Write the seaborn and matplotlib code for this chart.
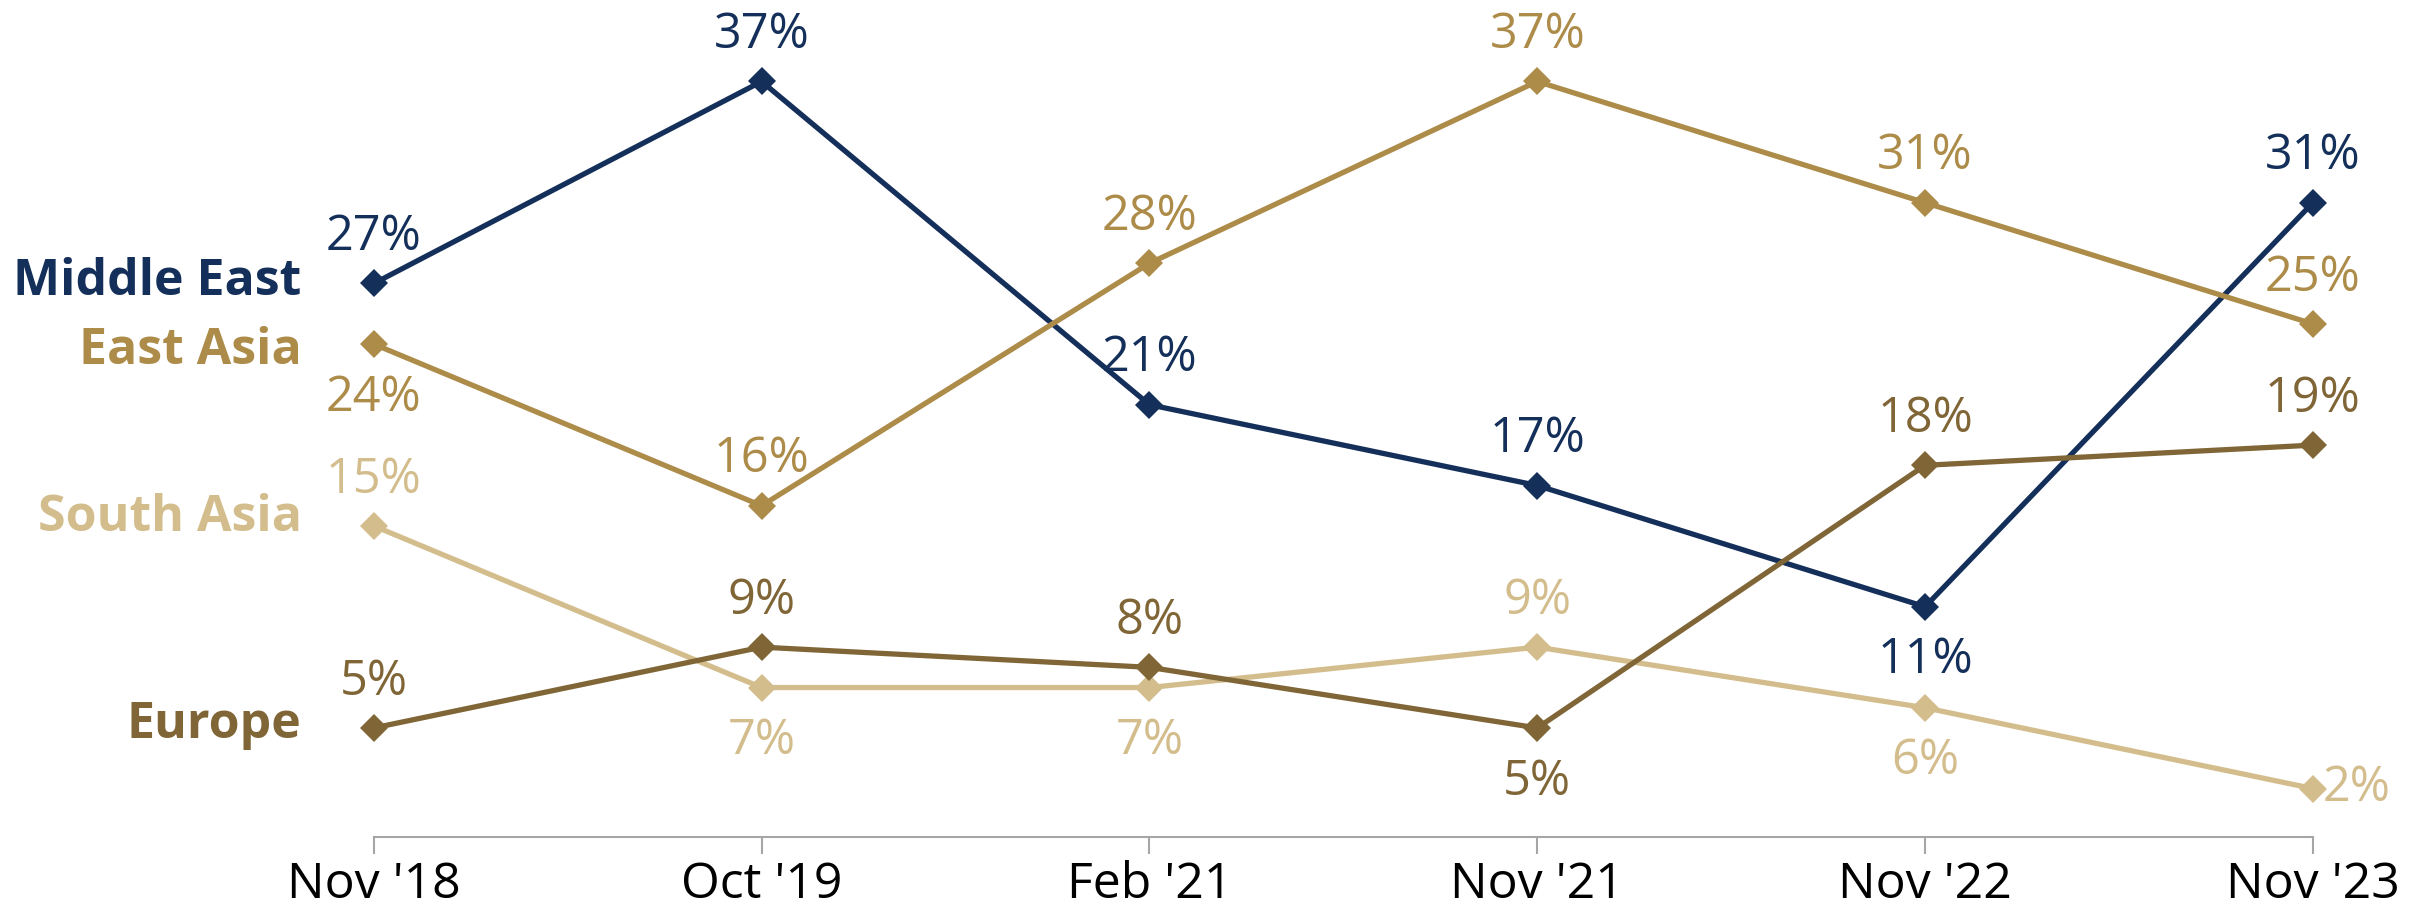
import matplotlib
matplotlib.use("Agg")
import matplotlib.pyplot as plt
import seaborn as sns
import pandas as pd

# survey waves
waves = ["Nov '18", "Oct '19", "Feb '21", "Nov '21", "Nov '22", "Nov '23"]

# share of respondents (%) per region
middle_east = [27, 37, 21, 17, 11, 31]
east_asia = [24, 16, 28, 37, 31, 25]
south_asia = [15, 7, 7, 9, 6, 2]
europe = [5, 9, 8, 5, 18, 19]

regions = ["Middle East", "East Asia", "South Asia", "Europe"]
colors = ["#14305a", "#ad8c4a", "#d4bd8c", "#806637"]

# where each value label sits: a = above, b = below, r = right
label_pos = {
    "Middle East": ["a", "a", "a", "a", "b", "a"],
    "East Asia": ["b", "a", "a", "a", "a", "a"],
    "South Asia": ["a", "b", "b", "a", "b", "r"],
    "Europe": ["a", "a", "a", "b", "a", "a"],
}
# vertical offset (pt) of the region name relative to its first point
name_dy = {"Middle East": -8, "East Asia": -14, "South Asia": -4, "Europe": -7}

values = {"Middle East": middle_east, "East Asia": east_asia,
          "South Asia": south_asia, "Europe": europe}

df = pd.DataFrame({
    "wave": list(range(len(waves))) * len(regions),
    "share": middle_east + east_asia + south_asia + europe,
    "region": [r for r in regions for _ in waves],
})

sns.set_style("white")
plt.rcParams["font.family"] = ["Open Sans", "DejaVu Sans"]

fig = plt.figure(figsize=(24.27, 9.15), dpi=100)
ax = fig.add_axes([0.154, 0.0852, 0.799, 0.892])

sns.lineplot(data=df, x="wave", y="share", hue="region", hue_order=regions,
             palette=colors, marker="D", markersize=14, markeredgewidth=0,
             linewidth=3.8, legend=False, ax=ax, clip_on=False)

for reg, col in zip(regions, colors):
    vals = values[reg]
    for i, v in enumerate(vals):
        pos = label_pos[reg][i]
        if pos == "a":
            ax.annotate(f"{v}%", (i, v), xytext=(0, 24), textcoords="offset points",
                        ha="center", va="baseline", fontsize=35, color=col)
        elif pos == "b":
            ax.annotate(f"{v}%", (i, v), xytext=(0, -48), textcoords="offset points",
                        ha="center", va="baseline", fontsize=35, color=col)
        else:
            ax.annotate(f"{v}%", (i, v), xytext=(7, 0), textcoords="offset points",
                        ha="left", va="center", fontsize=35, color=col)
    ax.annotate(reg, (0, vals[0]), xytext=(-52, name_dy[reg]), textcoords="offset points",
                ha="right", va="baseline", fontsize=36, fontweight="bold", color=col)

ax.set_xlim(0, len(waves) - 1)
ax.set_ylim(-0.4, 40)
ax.set_xticks(range(len(waves)))
ax.set_xticklabels(waves, fontsize=36, color="black")
ax.set_yticks([])
ax.set_xlabel("")
ax.set_ylabel("")
for s in ["left", "right", "top"]:
    ax.spines[s].set_visible(False)
ax.spines["bottom"].set_color("#a6a6a6")
ax.spines["bottom"].set_linewidth(1.5)
ax.tick_params(axis="x", bottom=True, direction="out", length=12, width=1.5,
               color="#a6a6a6", pad=5)

fig.savefig("out.png", dpi=100)
